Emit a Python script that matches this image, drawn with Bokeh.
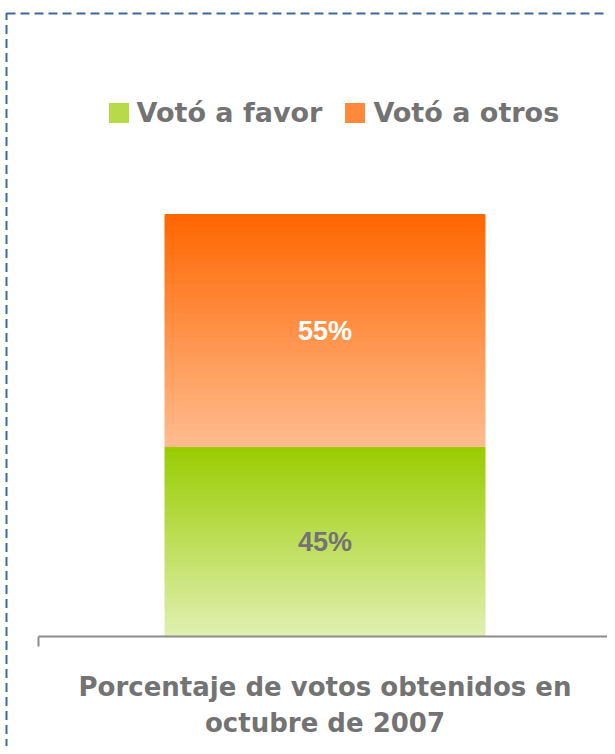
import numpy as np
from bokeh.plotting import figure
from bokeh.models import (Range1d, FixedTicker, Legend, LegendItem, BoxAnnotation,
                          ColumnDataSource, LinearAxis)
from bokeh.core.properties import value
from bokeh.embed import file_html
from bokeh.resources import INLINE

# ---------------- data ----------------
category_label = "Porcentaje de votos obtenidos en\noctubre de 2007"
series_names = ["Votó a favor", "Votó a otros"]
series_values = [45, 55]
top_colors = ["#99cc00", "#ff6600"]
bottom_colors = ["#e1f0b3", "#ffbc90"]
label_colors = ["#737373", "#ffffff"]

TEXT_GRAY = "#737373"
AXIS_GRAY = "#8c8c8c"
BORDER_BLUE = "#3d6a9c"

# ---------------- layout (canvas pixels) ----------------
W, H = 607, 746
X0, X1 = 38, 611                   # axis extent
Y100, Y0 = 214, 636                # top / bottom of the 100% bar
ppx = float(X1 - X0)               # pixels per x unit (x axis: 0..1)
ppy = (Y0 - Y100) / 100.0          # pixels per percent

x_range = Range1d(-X0 / ppx, (W - X0) / ppx)
y_range = Range1d(-(H - Y0) / ppy, Y0 / ppy)

p = figure(width=W, height=H, output_backend="svg", toolbar_location=None,
           x_range=x_range, y_range=y_range,
           x_axis_location=None, y_axis_location=None,
           min_border=0)
p.outline_line_color = None
p.grid.visible = False
p.background_fill_color = "white"
p.border_fill_color = "white"


def hex2rgb(h):
    h = h.lstrip("#")
    return np.array([int(h[i:i + 2], 16) for i in (0, 2, 4)], dtype=float)


def rgb2hex(c):
    return "#%02x%02x%02x" % tuple(int(round(v)) for v in c)


# gradient-filled stacked bar (strips computed from the data values)
N = 40
BAR_W = 320 / ppx
base = 0.0
legend_renderers = []
for name, v, ct, cb in zip(series_names, series_values, top_colors, bottom_colors):
    t = np.arange(N) / N
    bottoms = base + v * t
    tops = base + v * (t + 1.0 / N)
    frac = 1.0 - (t + 0.5 / N)  # 0 at top, 1 at bottom
    c0, c1 = hex2rgb(ct), hex2rgb(cb)
    cols = [rgb2hex(c0 + (c1 - c0) * f) for f in frac]
    src = ColumnDataSource(dict(x=[0.5] * N, bottom=bottoms, top=tops, color=cols))
    p.vbar(x="x", bottom="bottom", top="top", width=BAR_W, source=src,
           fill_color="color", line_color="color", line_width=1)
    mid = rgb2hex(c0 + (c1 - c0) * 0.4)
    r = p.vbar(x=[0.5], bottom=[0], top=[0], width=0, fill_color=mid,
               line_color=None)
    legend_renderers.append(r)
    base += v

# value labels
centers = []
acc = 0
for v in series_values:
    centers.append(acc + v / 2)
    acc += v
p.text(x=[0.5] * len(series_values), y=centers,
       text=["%d%%" % v for v in series_values],
       text_color=label_colors, text_align="center", text_baseline="middle",
       text_font=value("Liberation Sans"), text_font_style="bold",
       text_font_size="27px")

# category axis
ax = LinearAxis(fixed_location=0, bounds=(0, 1),
                ticker=FixedTicker(ticks=[0.5], minor_ticks=[0, 1]))
ax.major_label_overrides = {0.5: category_label}
ax.major_tick_line_color = None
ax.major_tick_in = 0
ax.major_tick_out = 0
ax.minor_tick_line_color = AXIS_GRAY
ax.minor_tick_line_width = 2
ax.minor_tick_in = 0
ax.minor_tick_out = 10
ax.axis_line_color = AXIS_GRAY
ax.axis_line_width = 2
ax.major_label_standoff = 25
ax.major_label_text_font = "DejaVu Sans"
ax.major_label_text_font_style = "bold"
ax.major_label_text_font_size = "26px"
ax.major_label_text_color = TEXT_GRAY
p.add_layout(ax, "below")

# legend (area swatches are drawn inset by 10% of the glyph box)
LEG_H = 31
GLYPH = 25
legend = Legend(items=[LegendItem(label=n, renderers=[r])
                       for n, r in zip(series_names, legend_renderers)],
                orientation="horizontal",
                location=(105.5, H - 112 - LEG_H / 2),
                glyph_width=GLYPH, glyph_height=GLYPH, label_standoff=6,
                spacing=20,
                padding=0, margin=0, border_line_color=None,
                background_fill_alpha=0,
                label_text_font="DejaVu Sans", label_text_font_style="bold",
                label_text_font_size="27px", label_text_color=TEXT_GRAY)
p.add_layout(legend, "center")

# dashed frame around the chart area (left and top edges visible)
bl, bt = 6, 13
border = BoxAnnotation(left=(bl - X0) / ppx, right=x_range.end + 1,
                       top=(Y0 - bt) / ppy, bottom=y_range.start - 10,
                       fill_alpha=0, line_color=BORDER_BLUE, line_alpha=1,
                       line_width=2, line_dash="9 5")
p.add_layout(border)

open("out.html", "w").write(file_html(p, INLINE))
